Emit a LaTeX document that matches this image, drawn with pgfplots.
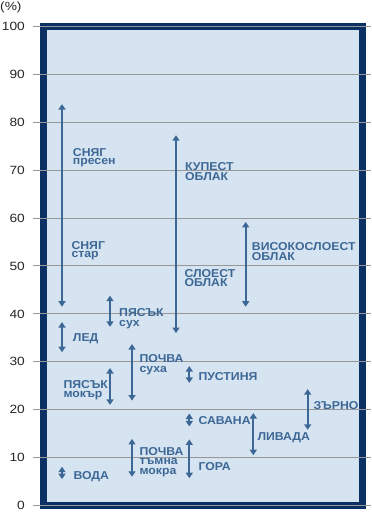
\documentclass[border=0pt]{standalone}
\usepackage{pgfplots}
\pgfplotsset{compat=1.18}
\usepackage{fontspec}
\setmainfont{Liberation Sans}
\newfontfamily\tickfont{Liberation Sans}[FakeStretch=1.15]
\newfontfamily\labfont{Liberation Sans}[FakeStretch=1.07]
\usetikzlibrary{arrows.meta}
\definecolor{framec}{HTML}{0B3063}
\definecolor{bgb}{HTML}{D6E4F2}
\definecolor{arr}{HTML}{3D6896}
\definecolor{gridc}{HTML}{979797}
\tikzset{arrw/.style={arr, line width=1.9bp, {Triangle[width=7bp,length=5.5bp]}-{Triangle[width=7bp,length=5.5bp]}},
  lab/.style={anchor=base west, text=arr, inner sep=0pt, font=\labfont\fontsize{11.5}{11.5}\selectfont\bfseries}}
\begin{document}
\begin{tikzpicture}
\path (0,0) rectangle (371bp,512bp);
\node[anchor=west, inner sep=0pt, font=\tickfont\fontsize{12}{12}\selectfont, text=black!85] at (0,505bp) {(\%)};
\begin{axis}[at={(33bp,6.5bp)}, anchor=south west, scale only axis,
  width=338bp, height=479bp, xmin=33, xmax=371, ymin=0, ymax=100,
  set layers, clip=false, axis line style={draw=none},
  xtick=\empty, ytick={0,10,...,100}, ymajorgrids,
  grid style={gridc, line width=1bp}, major tick length=0pt,
  yticklabel style={font=\tickfont\fontsize{12}{12}\selectfont, inner sep=0pt, xshift=-8bp, text=black!85},
  /pgf/number format/assume math mode=true]
\begin{pgfonlayer}{axis background}
\draw[framec, line width=7bp, fill=bgb] (axis cs:43.5,0) rectangle (axis cs:362,100);
\end{pgfonlayer}
% arrows (x position in px, min %, max %)
\addplot[arrw] coordinates {(62,41.5) (62,83.8)};      % snow
\addplot[arrw] coordinates {(62,32.0) (62,38.3)};      % ice
\addplot[arrw] coordinates {(62,5.5) (62,8.1)};        % water
\addplot[arrw] coordinates {(110,37.3) (110,43.8)};    % sand dry
\addplot[arrw] coordinates {(110,21.0) (110,28.7)};    % sand wet
\addplot[arrw] coordinates {(132,21.9) (132,33.7)};    % soil dry
\addplot[arrw] coordinates {(132,6.0) (132,13.9)};     % soil dark wet
\addplot[arrw] coordinates {(176,36.0) (176,77.3)};    % cumulus
\addplot[arrw] coordinates {(189.3,25.6) (189.3,29.1)};% desert
\addplot[arrw] coordinates {(189.3,16.5) (189.3,19.2)};% savanna
\addplot[arrw] coordinates {(189.3,5.7) (189.3,13.8)}; % forest
\addplot[arrw] coordinates {(245.7,41.5) (245.7,59.2)};% altostratus
\addplot[arrw] coordinates {(253.3,10.5) (253.3,19.3)};% meadow
\addplot[arrw] coordinates {(307.7,15.8) (307.7,24.3)};% grain
% labels
\node[lab] at (axis cs:72.7,72.96) {СНЯГ};
\node[lab] at (axis cs:72.7,71.23) {пресен};
\node[lab] at (axis cs:71.3,53.34) {СНЯГ};
\node[lab] at (axis cs:71.3,51.73) {стар};
\node[lab] at (axis cs:119,39.42) {ПЯСЪК};
\node[lab] at (axis cs:119,37.41) {сух};
\node[lab] at (axis cs:72.7,34.20) {ЛЕД};
\node[lab] at (axis cs:139.3,29.90) {ПОЧВА};
\node[lab] at (axis cs:139.3,27.81) {суха};
\node[lab] at (axis cs:63.3,24.47) {ПЯСЪК};
\node[lab] at (axis cs:63.3,22.59) {мокър};
\node[lab] at (axis cs:73.3,5.53) {ВОДА};
\node[lab] at (axis cs:139.3,10.54) {ПОЧВА};
\node[lab] at (axis cs:139.3,8.56) {тъмна};
\node[lab] at (axis cs:139.3,6.51) {мокра};
\node[lab] at (axis cs:185,70.04) {КУПЕСТ};
\node[lab] at (axis cs:185,67.75) {ОБЛАК};
\node[lab] at (axis cs:184.3,47.56) {СЛОЕСТ};
\node[lab] at (axis cs:184.3,45.68) {ОБЛАК};
\node[lab] at (axis cs:251.7,53.19) {ВИСОКОСЛОЕСТ};
\node[lab] at (axis cs:251.7,51.11) {ОБЛАК};
\node[lab] at (axis cs:198.3,26.20) {ПУСТИНЯ};
\node[lab] at (axis cs:198.3,16.81) {САВАНА};
\node[lab] at (axis cs:198.3,7.41) {ГОРА};
\node[lab] at (axis cs:257.3,13.53) {ЛИВАДА};
\node[lab] at (axis cs:313.3,20.08) {ЗЪРНО};
\end{axis}
\end{tikzpicture}
\end{document}
